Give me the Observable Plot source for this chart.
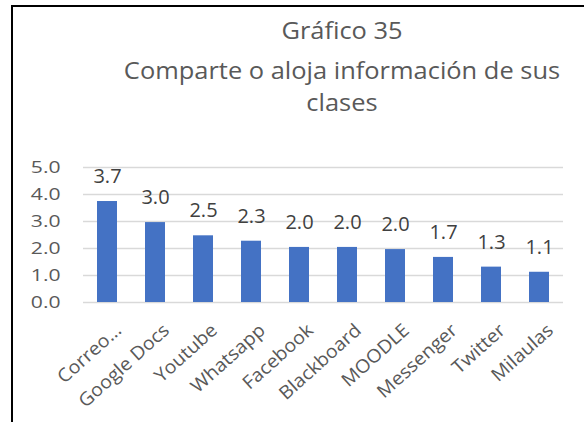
<!DOCTYPE html>
<html>
<head>
<meta charset="utf-8">
<script src="https://cdn.jsdelivr.net/npm/d3@7"></script>
<script src="https://cdn.jsdelivr.net/npm/@observablehq/plot@0.6"></script>
<style>
  html, body { margin: 0; padding: 0; background: #fff; }
  #wrap { position: relative; width: 584px; height: 422px; overflow: hidden; font-family: "Open Sans", sans-serif; }
  #frame { position: absolute; left: 11px; top: 5px; width: 600px; height: 500px; border-left: 2px solid #000; border-top: 2px solid #000; }
  .t { position: absolute; left: 92px; width: 500px; text-align: center; color: #595959; font-size: 24px; line-height: 1; white-space: nowrap; transform: scaleX(1.06); transform-origin: 50% 50%; }
  #chart { position: absolute; left: 0; top: 0; }
</style>
</head>
<body>
<div id="wrap">
  <div id="frame"></div>
  <div class="t" style="top:18px">Gráfico 35</div>
  <div class="t" style="top:58px">Comparte o aloja información de sus</div>
  <div class="t" style="top:90px">clases</div>
  <div id="chart"></div>
</div>
<script>
const categories = ["Correo…", "Google Docs", "Youtube", "Whatsapp", "Facebook", "Blackboard", "MOODLE", "Messenger", "Twitter", "Milaulas"];
const values = [3.74, 2.96, 2.47, 2.27, 2.04, 2.04, 1.96, 1.67, 1.31, 1.12];
const yTicks = [0, 1, 2, 3, 4, 5];

const data = categories.map((c, i) => ({ name: c, value: values[i] }));

const chart = Plot.plot({
  width: 584,
  height: 422,
  marginLeft: 83,
  marginRight: 21,
  marginTop: 167,
  marginBottom: 120,
  style: { fontFamily: "Open Sans", background: "transparent", color: "#595959" },
  x: { domain: categories, paddingInner: 0.58, paddingOuter: 0.29 },
  y: { domain: [0, 5] },
  marks: [
    Plot.gridY(yTicks, { stroke: "#d9d9d9", strokeOpacity: 1, strokeWidth: 1.5 }),
    Plot.axisY(yTicks, { tickSize: 0, tickPadding: 23, tickFormat: d => d.toFixed(1), fontSize: 16.5, fill: "#595959", label: null }),
    Plot.axisX({ tickSize: 0, tickPadding: 25, dx: 11, tickRotate: -42, fontSize: 18.5, fill: "#595959", label: null }),
    Plot.barY(data, { x: "name", y: "value", fill: "#4472c4" }),
    Plot.text(data, { x: "name", y: "value", text: d => d.value.toFixed(1), dy: -25, fontSize: 20, fill: "#404040" })
  ]
});
document.getElementById("chart").appendChild(chart);

// widen tick labels to match the reference's wide lettering
function widen(selector, k) {
  chart.querySelectorAll(selector).forEach(t => {
    const L = t.getComputedTextLength();
    t.setAttribute("textLength", (L * k).toFixed(1));
    t.setAttribute("lengthAdjust", "spacingAndGlyphs");
  });
}
widen("g[aria-label='y-axis tick label'] text", 1.28);
widen("g[aria-label='x-axis tick label'] text", 1.06);
</script>
</body>
</html>
